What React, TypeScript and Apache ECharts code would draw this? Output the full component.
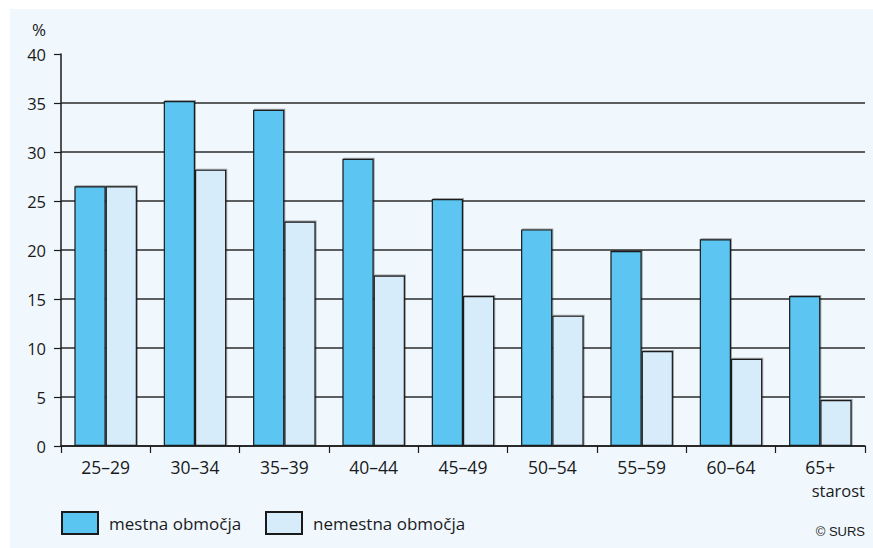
import React, { useEffect, useRef } from "react";
import * as echarts from "echarts";

const categories = ["25–29", "30–34", "35–39", "40–44", "45–49", "50–54", "55–59", "60–64", "65+"];
const mestna = [26.5, 35.2, 34.3, 29.3, 25.2, 22.1, 19.9, 21.1, 15.3];
const nemestna = [26.5, 28.2, 22.9, 17.4, 15.3, 13.3, 9.7, 8.9, 4.7];
const seriesNames = ["mestna območja", "nemestna območja"];

const FONT = "'Open Sans', 'Noto Sans', sans-serif";

export default function App() {
  const ref = useRef<HTMLDivElement>(null);
  useEffect(() => {
    document.body.style.margin = "0";
    const chart = echarts.init(ref.current!, null, { renderer: "svg" });
    const gridColors = ["#2b2b2b", "#2b2b2b", "#2b2b2b", "#2b2b2b", "#2b2b2b", "#2b2b2b", "#2b2b2b", "#2b2b2b", "rgba(0,0,0,0)"];
    const barStyle = (color: string) => ({
      color,
      borderColor: "#1a1a1a",
      borderWidth: 1.2,
      shadowColor: "rgba(0,0,0,0.35)",
      shadowBlur: 1.5,
      shadowOffsetX: 1,
      shadowOffsetY: -1,
    });
    const legendCommon = {
      top: 511,
      padding: 0,
      itemWidth: 36,
      itemHeight: 22,
      itemGap: 10,
      icon: "rect",
      textStyle: { fontSize: 17, color: "#1a1a1a", fontFamily: FONT, padding: [0, 0, 0, 6] },
    };
    chart.setOption({
      animation: false,
      textStyle: { fontFamily: FONT },
      grid: { left: 61, right: 8, top: 54, bottom: 102, containLabel: false },
      graphic: [
        { type: "rect", z: -10, shape: { x: 10, y: 9, width: 863, height: 539 }, style: { fill: "#f0f8fe" } },
        { type: "text", left: 32, top: 21, style: { text: "%", fontSize: 17, fill: "#1a1a1a", fontFamily: FONT } },
        { type: "text", right: 8, top: 482, style: { text: "starost", fontSize: 16.5, fill: "#1a1a1a", fontFamily: FONT } },
        { type: "text", right: 8, top: 525, style: { text: "© SURS", fontSize: 13, fill: "#1a1a1a", fontFamily: "'Liberation Sans', Arial, sans-serif" } },
      ],
      legend: [
        { ...legendCommon, data: [seriesNames[0]], left: 61 },
        { ...legendCommon, data: [seriesNames[1]], left: 265 },
      ],
      xAxis: {
        type: "category",
        data: categories,
        axisLine: { show: true, lineStyle: { color: "#1a1a1a", width: 1.5 } },
        axisTick: { show: true, length: 7, alignWithLabel: false, lineStyle: { color: "#1a1a1a", width: 1.2 } },
        axisLabel: { fontSize: 17.5, color: "#1a1a1a", margin: 11, fontFamily: FONT, lineHeight: 20 },
      },
      yAxis: {
        type: "value",
        min: 0,
        max: 40,
        interval: 5,
        axisLine: { show: true, lineStyle: { color: "#1a1a1a", width: 1.5 } },
        axisTick: { show: true, length: 7, lineStyle: { color: "#1a1a1a", width: 1.2 } },
        axisLabel: { fontSize: 16.5, color: "#1a1a1a", margin: 15, fontFamily: FONT },
        splitLine: { show: true, lineStyle: { color: gridColors, width: 1.5 } },
      },
      series: [
        { name: seriesNames[0], type: "bar", data: mestna, barGap: "0%", barCategoryGap: "30%", itemStyle: barStyle("#5bc5f1") },
        { name: seriesNames[1], type: "bar", data: nemestna, barGap: "0%", barCategoryGap: "30%", itemStyle: barStyle("#d6ecfa") },
      ],
    });
    return () => chart.dispose();
  }, []);
  return <div ref={ref} style={{ width: 873, height: 548 }} />;
}
